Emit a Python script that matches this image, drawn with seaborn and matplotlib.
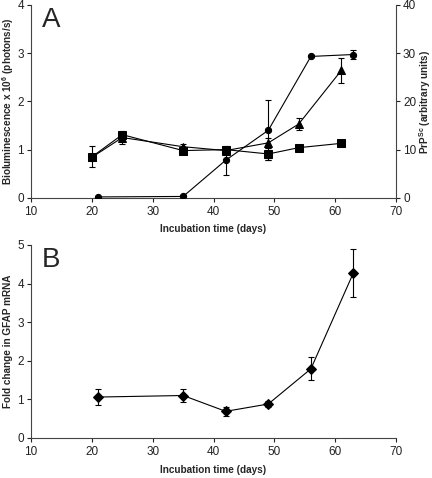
import matplotlib
matplotlib.use("Agg")
import matplotlib.pyplot as plt
import seaborn as sns
import pandas as pd

# Panel A: bioluminescence (left axis) and PrPSc (right axis)
sq_days = [20, 25, 35, 42, 49, 54, 61]
sq_vals = [0.85, 1.31, 0.98, 1.00, 0.91, 1.04, 1.13]
sq_err = [0.22, 0.0, 0.0, 0.0, 0.12, 0.0, 0.0]

tri_days = [20, 25, 35, 42, 49, 54, 61]
tri_vals = [0.84, 1.25, 1.06, 0.98, 1.14, 1.53, 2.64]
tri_err = [0.0, 0.13, 0.06, 0.0, 0.1, 0.13, 0.26]

circ_days = [21, 35, 42, 49, 56, 63]
circ_vals = [0.2, 0.3, 7.8, 14.0, 29.3, 29.7]   # arbitrary units (right axis)
circ_err = [0.0, 0.0, 3.0, 6.2, 0.0, 1.0]

# Panel B: GFAP mRNA
gfap_days = [21, 35, 42, 49, 56, 63]
gfap_vals = [1.06, 1.10, 0.69, 0.88, 1.79, 4.28]
gfap_err = [0.20, 0.18, 0.12, 0.07, 0.30, 0.62]

sns.set_style("ticks")
plt.rcParams['font.family'] = ['Liberation Sans', 'DejaVu Sans']
plt.rcParams['mathtext.fontset'] = 'custom'
plt.rcParams['mathtext.rm'] = 'Liberation Sans'
plt.rcParams['mathtext.bf'] = 'Liberation Sans:bold'

fig = plt.figure(figsize=(4.32, 4.78), dpi=100)
axA = fig.add_axes([0.0718, 0.586, 0.845, 0.404])
axB = fig.add_axes([0.0718, 0.0837, 0.845, 0.404])
axA2 = axA.twinx()

ekw = dict(fmt='none', ecolor='black', elinewidth=0.8, capsize=2.5, capthick=0.8)


def draw(ax, days, vals, errs, marker, ms):
    df = pd.DataFrame({'day': days, 'val': vals})
    sns.lineplot(data=df, x='day', y='val', ax=ax, color='black', linewidth=0.8,
                 marker=marker, markersize=ms, markeredgecolor='black',
                 markerfacecolor='black', legend=False)
    ax.errorbar(days, vals, yerr=errs, **ekw)


draw(axA, sq_days, sq_vals, sq_err, 's', 6)
draw(axA, tri_days, tri_vals, tri_err, '^', 6)
draw(axA2, circ_days, circ_vals, circ_err, 'o', 4.5)
draw(axB, gfap_days, gfap_vals, gfap_err, 'D', 5)

for ax in (axA, axB):
    ax.set_xlim(10, 70)
    ax.set_xticks(range(10, 71, 10))
    ax.set_xlabel('Incubation time (days)', fontsize=7.2, fontweight='bold', labelpad=4.5)
    ax.tick_params(labelsize=8.5, length=3, width=0.8, colors='#222222', pad=2)
    ax.tick_params(axis='x', pad=3)
    for s in ('top', 'right'):
        ax.spines[s].set_visible(False)
    for s in ('left', 'bottom'):
        ax.spines[s].set_color('#444444')
        ax.spines[s].set_linewidth(0.8)

axA.set_ylim(0, 4)
axA.set_yticks(range(0, 5))
axA.set_ylabel(r'Bioluminescence x 10$^{\mathbf{6}}$ (photons/s)', fontsize=7.2,
               fontweight='bold', labelpad=1)

axA2.set_ylim(0, 40)
axA2.set_yticks(range(0, 41, 10))
axA2.set_ylabel(r'PrP$^{\mathbf{Sc}}$ (arbitrary units)', fontsize=7.2, fontweight='bold', labelpad=1)
axA2.tick_params(labelsize=8.5, length=3, width=0.8, colors='#222222', pad=2)
for s in ('top', 'left', 'bottom'):
    axA2.spines[s].set_visible(False)
axA2.spines['right'].set_color('#444444')
axA2.spines['right'].set_linewidth(0.8)

axB.set_ylim(0, 5)
axB.set_yticks(range(0, 6))
axB.set_ylabel('Fold change in GFAP mRNA', fontsize=7.2, fontweight='bold', labelpad=3)

axA.text(0.03, 0.99, 'A', transform=axA.transAxes, fontsize=20, va='top', ha='left')
axB.text(0.03, 0.99, 'B', transform=axB.transAxes, fontsize=20, va='top', ha='left')

fig.savefig('out.png', dpi=100)
plt.close()
